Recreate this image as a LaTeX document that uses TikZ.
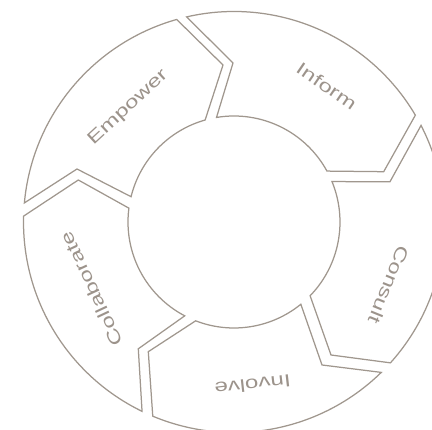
\documentclass[tikz,border=0pt]{standalone}
\usepackage{fontspec}
\newfontfamily\lblfont{Liberation Sans}
\definecolor{segline}{HTML}{A0978E}
\definecolor{segtext}{HTML}{9C938B}
\newcommand{\wide}[1]{\scalebox{1.38}[1]{#1}}
\begin{document}
\begin{tikzpicture}[x=1pt,y=1pt,
  seg/.style={draw=segline, line width=1.25pt, line join=miter, fill=none},
  lbl/.style={text=segtext, font=\lblfont\fontsize{17.5}{20}\selectfont, inner sep=0pt}]
\def\RO{210.5pt}
\def\RI{106pt}
\clip (-234,-208) rectangle (198,222);
% Empower
\draw[seg] (174.8:\RO) arc[start angle=174.8, end angle=105.8, radius=\RO]
  -- (-11,157) -- (105.8:\RI) arc[start angle=105.8, end angle=166.2, radius=\RI]
  -- (-157,53) -- cycle;
% Inform
\draw[seg] (103.0:\RO) arc[start angle=103.0, end angle=30.5, radius=\RO]
  -- (149.7,50.3) -- (28.7:\RI) arc[start angle=28.7, end angle=99.5, radius=\RI]
  -- (-1,159) -- cycle;
% Consult
\draw[seg] (27.3:\RO) arc[start angle=27.3, end angle=-42.0, radius=\RO]
  -- (97,-133) -- (-44.1:\RI) arc[start angle=-44.1, end angle=22.4, radius=\RI]
  -- (156,40.3) -- cycle;
% Involve
\draw[seg] (-45.6:\RO) arc[start angle=-45.6, end angle=-112.7, radius=\RO]
  -- (-85.7,-129.7) -- (-111.2:\RI) arc[start angle=-111.2, end angle=-50.9, radius=\RI]
  -- (88,-143) -- cycle;
% Collaborate
\draw[seg] (244.1:\RO) arc[start angle=244.1, end angle=178.4, radius=\RO]
  -- (-155.7,42) -- (172.5:\RI) arc[start angle=172.5, end angle=242.3, radius=\RI]
  -- (-95.7,-126.8) -- cycle;
% labels
\node[lbl, rotate=42.7] (empower) at (-105.7,114.5) {\wide{Empower}};
\node[lbl, rotate=-34.3] (inform) at (92.7,136) {\wide{Inform}};
\node[lbl, rotate=-112.1] (consult) at (155.3,-63) {\wide{Consult}};
\node[lbl, rotate=-173.5] (involve) at (18.7,-163) {\wide{Involve}};
\node[lbl, rotate=115.2] (collab) at (-142.3,-67) {\wide{Collaborate}};
\end{tikzpicture}
\end{document}
